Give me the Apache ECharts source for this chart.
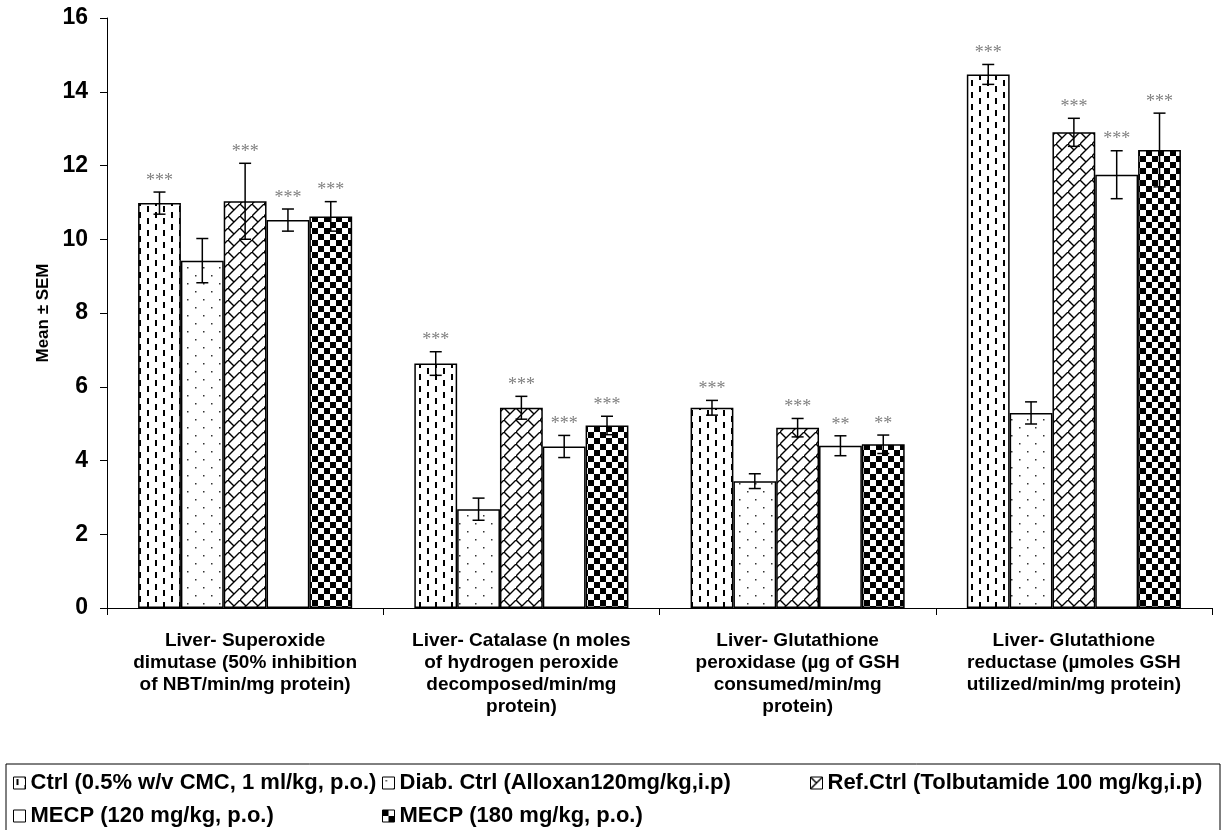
<!DOCTYPE html>
<html>
<head>
<meta charset="utf-8">
<script src="https://cdn.jsdelivr.net/npm/echarts@6/dist/echarts.min.js"></script>
<style>
html, body { margin: 0; padding: 0; background: #fff; }
#main { width: 1228px; height: 830px; }
</style>
</head>
<body>
<div id="main"></div>
<script>
var categories = [
    'Liver- Superoxide\ndimutase (50% inhibition\nof NBT/min/mg protein)',
    'Liver- Catalase (n moles\nof hydrogen peroxide\ndecomposed/min/mg\nprotein)',
    'Liver- Glutathione\nperoxidase (µg of GSH\nconsumed/min/mg\nprotein)',
    'Liver- Glutathione\nreductase (µmoles GSH\nutilized/min/mg protein)'
];
var groupNames = [
    'Ctrl (0.5% w/v CMC, 1 ml/kg, p.o.)',
    'Diab. Ctrl (Alloxan120mg/kg,i.p)',
    'Ref.Ctrl (Tolbutamide 100 mg/kg,i.p)',
    'MECP (120 mg/kg, p.o.)',
    'MECP (180 mg/kg, p.o.)'
];
// mean values per group, one entry per category
var ctrlMean = [10.98, 6.63, 5.43, 14.47];
var diabMean = [9.42, 2.68, 3.44, 5.29];
var refMean = [11.03, 5.43, 4.89, 12.9];
var mecp120Mean = [10.52, 4.38, 4.4, 11.75];
var mecp180Mean = [10.62, 4.95, 4.44, 12.42];
// SEM
var ctrlSem = [0.3, 0.32, 0.2, 0.27];
var diabSem = [0.6, 0.3, 0.2, 0.3];
var refSem = [1.03, 0.31, 0.25, 0.38];
var mecp120Sem = [0.3, 0.3, 0.27, 0.65];
var mecp180Sem = [0.4, 0.25, 0.25, 1.0];
// significance marks
var ctrlSig = ['***', '***', '***', '***'];
var diabSig = ['', '', '', ''];
var refSig = ['***', '***', '***', '***'];
var mecp120Sig = ['***', '***', '**', '***'];
var mecp180Sig = ['***', '***', '**', '***'];
var yTicks = [0, 2, 4, 6, 8, 10, 12, 14, 16];

var means = [ctrlMean, diabMean, refMean, mecp120Mean, mecp180Mean];
var sems = [ctrlSem, diabSem, refSem, mecp120Sem, mecp180Sem];
var sigs = [ctrlSig, diabSig, refSig, mecp120Sig, mecp180Sig];

var sansFont = '"Liberation Sans", Arial, sans-serif';

function makePattern(w, h, draw) {
    var c = document.createElement('canvas');
    c.width = w;
    c.height = h;
    var ctx = c.getContext('2d');
    ctx.fillStyle = '#fff';
    ctx.fillRect(0, 0, w, h);
    ctx.fillStyle = '#000';
    ctx.strokeStyle = '#000';
    draw(ctx);
    return { image: c, repeat: 'repeat' };
}

var patterns = [
    // vertical dashes
    makePattern(16, 24, function(ctx) {
        ctx.fillRect(3, 2, 2, 6);
        ctx.fillRect(3, 14, 2, 6);
        ctx.fillRect(11, 8, 2, 6);
        ctx.fillRect(11, 20, 2, 4);
        ctx.fillRect(11, 0, 2, 2);
    }),
    // sparse dots
    makePattern(16, 16, function(ctx) {
        ctx.fillStyle = '#333';
        ctx.fillRect(3, 3, 1.5, 1.5);
        ctx.fillRect(11, 11, 1.5, 1.5);
    }),
    // diagonal brick
    makePattern(12, 12, function(ctx) {
        ctx.lineWidth = 1.4;
        ctx.beginPath();
        ctx.moveTo(-1, 13); ctx.lineTo(13, -1);
        ctx.moveTo(0, 0); ctx.lineTo(6, 6);
        ctx.stroke();
    }),
    '#fff',
    // checkerboard
    makePattern(12, 12, function(ctx) {
        ctx.fillRect(0, 0, 6, 6);
        ctx.fillRect(6, 6, 6, 6);
    })
];

var catGap = 0.225;
var barSeries = groupNames.map(function(name, i) {
    return {
        name: name,
        type: 'bar',
        barGap: '0%',
        barCategoryGap: (catGap * 100) + '%',
        data: means[i],
        itemStyle: {
            color: patterns[i],
            borderColor: '#000',
            borderWidth: 1.5
        },
        emphasis: { disabled: true }
    };
});

var errData = [];
for (var s = 0; s < 5; s++) {
    for (var c = 0; c < categories.length; c++) {
        errData.push([c, s, means[s][c], sems[s][c], sigs[s][c]]);
    }
}

var errSeries = {
    type: 'custom',
    z: 5,
    silent: true,
    data: errData,
    encode: { x: 0, y: 2 },
    renderItem: function(params, api) {
        var cat = api.value(0);
        var s = api.value(1);
        var v = api.value(2);
        var e = api.value(3);
        var sig = errData[params.dataIndex][4];
        var band = api.size([1, 0])[0];
        var barW = band * (1 - catGap) / 5;
        var center = api.coord([cat, v]);
        var x = center[0] + (s - 2) * barW;
        var yHi = api.coord([cat, v + e])[1];
        var yLo = api.coord([cat, v - e])[1];
        var cap = 6;
        var lineStyle = { stroke: '#000', lineWidth: 1.5 };
        var children = [
            { type: 'line', shape: { x1: x, y1: yHi, x2: x, y2: yLo }, style: lineStyle },
            { type: 'line', shape: { x1: x - cap, y1: yHi, x2: x + cap, y2: yHi }, style: lineStyle },
            { type: 'line', shape: { x1: x - cap, y1: yLo, x2: x + cap, y2: yLo }, style: lineStyle }
        ];
        if (sig) {
            children.push({
                type: 'text',
                style: {
                    text: sig,
                    x: x,
                    y: yHi - 2,
                    align: 'center',
                    verticalAlign: 'bottom',
                    fill: '#808080',
                    font: '18px "Liberation Serif", serif'
                }
            });
        }
        return { type: 'group', children: children };
    }
};

var legendText = {
    fontFamily: sansFont,
    fontWeight: 'bold',
    fontSize: 22,
    color: '#000'
};
var legendPos = [[13, 772], [382, 772], [810, 772], [13, 805], [382, 805]];
var legends = groupNames.map(function(name, i) {
    return {
        data: [name],
        left: legendPos[i][0],
        top: legendPos[i][1],
        padding: 0,
        itemWidth: 12,
        itemHeight: 12,
        itemGap: 4,
        icon: 'rect',
        selectedMode: false,
        itemStyle: { borderColor: '#000', borderWidth: 1 },
        textStyle: legendText
    };
});

var chart = echarts.init(document.getElementById('main'));
var option = {
    animation: false,
    backgroundColor: '#fff',
    grid: { left: 107, right: 16, top: 18, bottom: 222 },
    legend: legends,
    graphic: [{
        type: 'rect',
        shape: { x: 6, y: 764, width: 1214, height: 80 },
        style: { fill: 'none', stroke: '#000', lineWidth: 1 },
        silent: true
    }],
    xAxis: {
        type: 'category',
        data: categories,
        axisLine: { lineStyle: { color: '#000', width: 1 } },
        axisTick: { show: true, length: 7, lineStyle: { color: '#000' } },
        axisLabel: {
            interval: 0,
            margin: 22,
            color: '#000',
            fontFamily: sansFont,
            fontWeight: 'bold',
            fontSize: 19,
            lineHeight: 22
        }
    },
    yAxis: {
        type: 'value',
        min: yTicks[0],
        max: yTicks[yTicks.length - 1],
        interval: yTicks[1] - yTicks[0],
        name: 'Mean ± SEM',
        nameLocation: 'middle',
        nameGap: 50,
        nameTextStyle: {
            color: '#000',
            fontFamily: sansFont,
            fontWeight: 'bold',
            fontSize: 17
        },
        axisLine: { show: true, lineStyle: { color: '#000', width: 1 } },
        axisTick: { show: true, length: 7, lineStyle: { color: '#000' } },
        splitLine: { show: false },
        axisLabel: {
            margin: 19,
            color: '#000',
            fontFamily: sansFont,
            fontWeight: 'bold',
            fontSize: 23
        }
    },
    series: barSeries.concat([errSeries])
};
chart.setOption(option);
</script>
</body>
</html>
